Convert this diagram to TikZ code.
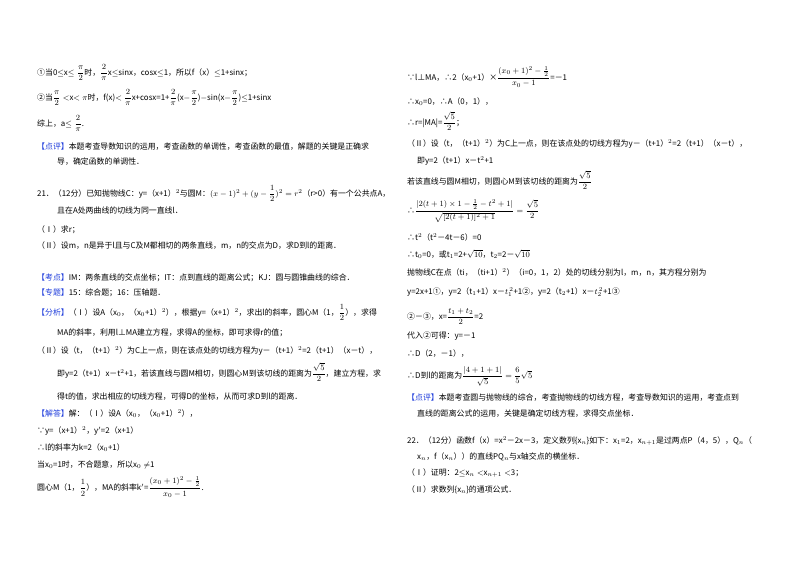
\documentclass[tikz,border=0pt]{standalone}
\usepackage{fontspec}
\setmainfont{Noto Sans CJK SC}
\usepackage{amsmath}
\definecolor{lblue}{RGB}{30,60,220}
\newcommand{\tg}[1]{\textcolor{lblue}{【#1】}}
\newcommand{\fr}[2]{{\displaystyle\frac{#1}{#2}}}
\begin{document}
\begin{tikzpicture}[x=1pt,y=-1pt,
  ln/.style={anchor=base west,inner sep=0pt,font=\fontsize{7.9}{9}\selectfont}]
\useasboundingbox[fill=white] (0,0) rectangle (800,565);
% left column
\node[ln] (l1) at (37,75) {①当0$\leq$x$\leq\fr{\pi}{2}$时，$\fr{2}{\pi}$x$\leq$sinx，cosx$\leq$1，所以f（x）$\leq$1+sinx；};
\node[ln] (l2) at (37,100) {②当$\fr{\pi}{2}<$x$<\pi$时，f(x)$<\fr{2}{\pi}$x+cosx=1+$\fr{2}{\pi}$(x$-\fr{\pi}{2}$)$-$sin(x$-\fr{\pi}{2}$)$\leq$1+sinx};
\node[ln] (l3) at (37,126) {综上，a$\leq\fr{2}{\pi}$.};
\node[ln] (l4) at (37,149) {\tg{点评}本题考查导数知识的运用，考查函数的单调性，考查函数的最值，解题的关键是正确求};
\node[ln] (l5) at (57,164) {导，确定函数的单调性．};
\node[ln] (l6) at (37,196) {21．（12分）已知抛物线C：y=（x+1）$^2$与圆M：$(x-1)^2+(y-\fr{1}{2})^2=r^2$（r>0）有一个公共点A，};
\node[ln] (l7) at (57,213) {且在A处两曲线的切线为同一直线l．};
\node[ln] (l8) at (37,232) {（Ⅰ）求r；};
\node[ln] (l9) at (37,248) {（Ⅱ）设m，n是异于l且与C及M都相切的两条直线，m，n的交点为D，求D到l的距离．};
\node[ln] (l10) at (37,280) {\tg{考点}IM：两条直线的交点坐标；IT：点到直线的距离公式；KJ：圆与圆锥曲线的综合．};
\node[ln] (l11) at (37,295) {\tg{专题}15：综合题；16：压轴题．};
\node[ln] (l12) at (37,315) {\tg{分析}（Ⅰ）设A（x$_0$，（x$_0$+1）$^2$），根据y=（x+1）$^2$，求出l的斜率，圆心M（1，$\fr{1}{2}$），求得};
\node[ln] (l13) at (57,335) {MA的斜率，利用l⊥MA建立方程，求得A的坐标，即可求得r的值；};
\node[ln] (l14) at (37,353) {（Ⅱ）设（t，（t+1）$^2$）为C上一点，则在该点处的切线方程为y－（t+1）$^2$=2（t+1）（x－t），};
\node[ln] (l15) at (57,376) {即y=2（t+1）x－t$^2$+1，若该直线与圆M相切，则圆心M到该切线的距离为$\fr{\sqrt5}{2}$，建立方程，求};
\node[ln] (l16) at (57,399) {得t的值，求出相应的切线方程，可得D的坐标，从而可求D到l的距离．};
\node[ln] (l17) at (37,416) {\tg{解答}解：（Ⅰ）设A（x$_0$，（x$_0$+1）$^2$），};
\node[ln] (l18) at (37,433) {∵y=（x+1）$^2$，y$'$=2（x+1）};
\node[ln] (l19) at (37,450) {∴l的斜率为k=2（x$_0$+1）};
\node[ln] (l20) at (37,467) {当x$_0$=1时，不合题意，所以x$_0\neq$1};
\node[ln] (l21) at (37,490) {圆心M（1，$\fr{1}{2}$），MA的斜率k$'$=$\dfrac{(x_0+1)^2-\frac12}{x_0-1}$.};
% right column
\node[ln] (r1) at (407,80) {∵l⊥MA，∴2（x$_0$+1）×$\dfrac{(x_0+1)^2-\frac12}{x_0-1}$=－1};
\node[ln] (r2) at (407,104) {∴x$_0$=0，∴A（0，1），};
\node[ln] (r3) at (407,125) {∴r=|MA|=$\fr{\sqrt5}{2}$；};
\node[ln] (r4) at (407,146) {（Ⅱ）设（t，（t+1）$^2$）为C上一点，则在该点处的切线方程为y－（t+1）$^2$=2（t+1）（x－t），};
\node[ln] (r5) at (417,163) {即y=2（t+1）x－t$^2$+1};
\node[ln] (r6) at (407,184) {若该直线与圆M相切，则圆心M到该切线的距离为$\fr{\sqrt5}{2}$};
\node[ln] (r7) at (407,213) {∴$\dfrac{|2(t+1)\times1-\frac12-t^2+1|}{\sqrt{[2(t+1)]^2+1}}=\dfrac{\sqrt5}{2}$};
\node[ln] (r8) at (407,240) {∴t$^2$（t$^2$－4t－6）=0};
\node[ln] (r9) at (407,257) {∴t$_0$=0，或t$_1$=2+$\sqrt{10}$，t$_2$=2－$\sqrt{10}$};
\node[ln] (r10) at (407,275) {抛物线C在点（ti，（ti+1）$^2$）（i=0，1，2）处的切线分别为l，m，n，其方程分别为};
\node[ln] (r11) at (407,294) {y=2x+1①，y=2（t$_1$+1）x－$t_1^{\,2}$+1②，y=2（t$_2$+1）x－$t_2^{\,2}$+1③};
\node[ln] (r12) at (407,319) {②－③，x=$\fr{t_1+t_2}{2}$=2};
\node[ln] (r13) at (407,338) {代入②可得：y=－1};
\node[ln] (r14) at (407,356) {∴D（2，－1），};
\node[ln] (r15) at (407,378) {∴D到l的距离为$\fr{|4+1+1|}{\sqrt5}=\fr65\sqrt5$};
\node[ln] (r16) at (407,400) {\tg{点评}本题考查圆与抛物线的综合，考查抛物线的切线方程，考查导数知识的运用，考查点到};
\node[ln] (r17) at (417,416) {直线的距离公式的运用，关键是确定切线方程，求得交点坐标．};
\node[ln] (r18) at (407,443) {22．（12分）函数f（x）=x$^2$－2x－3，定义数列\{x$_n$\}如下：x$_1$=2，x$_{n+1}$是过两点P（4，5），Q$_n$（};
\node[ln] (r19) at (417,459) {x$_n$，f（x$_n$））的直线PQ$_n$与x轴交点的横坐标．};
\node[ln] (r20) at (407,475) {（Ⅰ）证明：2$\leq$x$_n<$x$_{n+1}<$3；};
\node[ln] (r21) at (407,492) {（Ⅱ）求数列\{x$_n$\}的通项公式．};
\end{tikzpicture}
\end{document}
